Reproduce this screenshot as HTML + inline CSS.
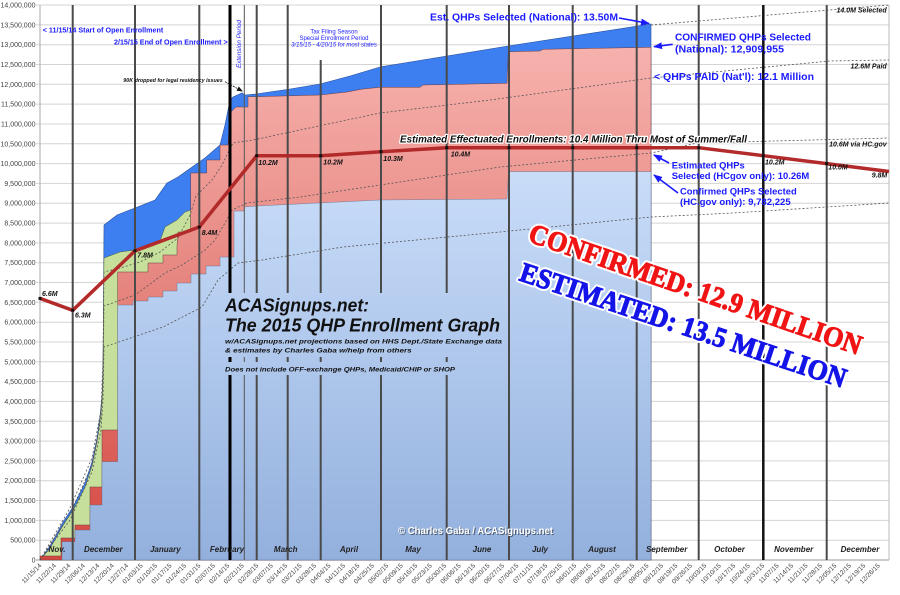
<!DOCTYPE html>
<html>
<head>
<meta charset="utf-8">
<style>
html,body{margin:0;padding:0;background:#fff;}
svg{display:block;}
.yl{font-family:"Liberation Sans",sans-serif;font-size:7px;fill:#444;text-anchor:end;}
.xl{font-family:"Liberation Sans",sans-serif;font-size:6.6px;fill:#444;text-anchor:end;}
.mo{font-family:"Liberation Sans",sans-serif;font-size:8px;font-weight:bold;font-style:italic;fill:#222;text-anchor:middle;}
.pt{font-family:"Liberation Sans",sans-serif;font-size:7px;font-weight:bold;font-style:italic;fill:#111;}
.bl{font-family:"Liberation Sans",sans-serif;font-weight:bold;fill:#1a1aff;}
.bi{font-family:"Liberation Sans",sans-serif;font-weight:bold;font-style:italic;fill:#111;}
</style>
</head>
<body>
<svg width="900" height="595" viewBox="0 0 900 595" xmlns="http://www.w3.org/2000/svg">
<defs>
<linearGradient id="lb" gradientUnits="userSpaceOnUse" x1="0" y1="170" x2="0" y2="560">
<stop offset="0" stop-color="#c9ddf9"/><stop offset="1" stop-color="#93b0dd"/>
</linearGradient>
<linearGradient id="rd" gradientUnits="userSpaceOnUse" x1="0" y1="45" x2="0" y2="560">
<stop offset="0" stop-color="#f7b2ae"/><stop offset="0.5" stop-color="#e5827c"/><stop offset="1" stop-color="#d4463f"/>
</linearGradient>
<marker id="ah" markerWidth="9" markerHeight="7" refX="8" refY="3.5" orient="auto" markerUnits="userSpaceOnUse">
<path d="M0,0 L9,3.5 L0,7 z" fill="#1a1aff"/>
</marker>
<marker id="ahk" markerWidth="6" markerHeight="5" refX="5" refY="2.5" orient="auto" markerUnits="userSpaceOnUse">
<path d="M0,0 L6,2.5 L0,5 z" fill="#111"/>
</marker>
</defs>

<rect x="0" y="0" width="900" height="595" fill="#fff"/>

<!-- gridlines -->
<g stroke="#d4d4d4" stroke-width="1">
<path d="M36 540.2H889M36 520.4H889M36 500.5H889M36 480.7H889M36 460.9H889M36 441.1H889M36 421.3H889M36 401.4H889M36 381.6H889M36 361.8H889M36 342H889M36 322.2H889M36 302.3H889M36 282.5H889M36 262.7H889M36 242.9H889M36 223.1H889M36 203.2H889M36 183.4H889M36 163.6H889M36 143.8H889M36 124H889M36 104.1H889M36 84.3H889M36 64.5H889M36 44.7H889M36 24.9H889M36 5H889"/>
</g>
<line x1="36" y1="560" x2="889" y2="560" stroke="#999" stroke-width="1"/>
<line x1="40" y1="5" x2="40" y2="560" stroke="#aaa" stroke-width="1"/>
<line x1="889" y1="5" x2="889" y2="560" stroke="#bbb" stroke-width="1"/>

<!-- areas -->
<polygon fill="#3d7ef0" stroke="#2a4f9a" stroke-width="0.6" points="40,560 50,546 63,522 73,507 85,483 92,462 97,438 100,416 102,397 103,372 103.5,300 104,225 117,215 135,208 155,200 167,183 178,177 195,165 205,158 220,145 225,125 230,100 233,97 242,93 245,95 256,94 290,89 320,84 350,76 380,67 508,46 651,24 651,560"/>
<polygon fill="#c6e09b" stroke="#4a5a3a" stroke-width="0.5" points="40,560 50,548.5 63,525.5 73,510.5 85,487 92,466 97,442 100,420 102,401 103,376 103.5,300 104,258 120,252 135,250 160,241 165,227 177,220 185,212 190.7,210 190.7,560"/>
<polygon fill="url(#rd)" stroke="#6a3a3a" stroke-width="0.5" points="40,560 40,556 61,556 61,538 75,538 75,525 90,525 90,487 102,487 102,430 117.7,430 117.7,272 148,272 148,263 163,263 163,255 177,255 177,247 178,232 190.7,232 190.7,173 206.7,173 206.7,160 220,160 220,145 228,145 230,113 236,107 248,107 248,96.7 256,96.7 320,95 347,92 363,89 380,87.3 420,87.3 423,85 507,83.3 508.3,51.7 540,51 543,49.3 651,47.3 651,560"/>
<polygon fill="url(#lb)" stroke="#5a6a8a" stroke-width="0.4" points="62,560 62,541.7 75,541.7 75,530 90,530 90,505 102,505 102,461.7 117.7,461.7 117.7,305 133,305 133,301 148,301 148,297 163,297 163,291 177,291 177,283 191,283 191,274 206,274 206,266 220,266 220,257 234,257 234,211 244,211 244,207 256,206 380,200 507,199 508.5,171.7 651,171.7 651,560"/>

<!-- dotted projection lines -->
<g fill="none" stroke="#555" stroke-width="0.8" stroke-dasharray="2,2">
<polyline points="40,560 70,508 92,458 101,410 103,360 104,272 120,268 140,262 160,252 178,238 190,215 196,196 212,180 222,165 228,153 233,143 253,140 300,130 380,113 490,100 651,78 830,61 889,60"/>
<polyline points="40,560 70,514 92,465 101,420 103,380 104,306 135,295 165,273 182,265 205,250 215,240 225,223 232,210 247,203 300,197 500,167 651,153 697,143 889,138"/>
<polyline points="40,560 70,520 92,472 101,430 103,400 104,347 163,327 202,307 218,280 238,263 262,260 343,247 500,232 651,217 733,213 889,203"/>
<polyline points="651,25 889,5"/>
</g>

<!-- vertical month lines -->
<g stroke="#4a4a4a" stroke-width="2">
<line x1="72.7" y1="5" x2="72.7" y2="560"/>
<line x1="135" y1="5" x2="135" y2="560"/>
<line x1="199.3" y1="5" x2="199.3" y2="560"/>
<line x1="256.7" y1="5" x2="256.7" y2="560"/>
<line x1="287.7" y1="5" x2="287.7" y2="560"/>
<line x1="320.7" y1="60" x2="320.7" y2="560"/>
<line x1="381" y1="5" x2="381" y2="560"/>
<line x1="446.7" y1="5" x2="446.7" y2="560"/>
<line x1="509" y1="5" x2="509" y2="560"/>
<line x1="572.7" y1="5" x2="572.7" y2="560"/>
<line x1="636.7" y1="5" x2="636.7" y2="560"/>
<line x1="698.7" y1="5" x2="698.7" y2="560"/>
<line x1="826.7" y1="5" x2="826.7" y2="560"/>
</g>
<line x1="230" y1="5" x2="230" y2="560" stroke="#000" stroke-width="3"/>
<line x1="244.3" y1="5" x2="244.3" y2="560" stroke="#555" stroke-width="1"/>
<line x1="763.3" y1="5" x2="763.3" y2="560" stroke="#111" stroke-width="2.5"/>

<!-- effectuated red line -->
<polyline fill="none" stroke="#b22a2a" stroke-width="3.5" stroke-linejoin="round" points="40,298.4 72.7,310.3 135,250.8 199.3,227 256.7,155.7 320.7,155.7 381,151.7 446.7,147.7 698.7,147.7 763.3,155.7 826.7,163.6 889,171.5"/>
<g fill="#111">
<rect x="38.5" y="296.9" width="3" height="3"/>
<rect x="71.2" y="308.8" width="3" height="3"/>
<rect x="133.5" y="249.3" width="3" height="3"/>
<rect x="197.8" y="225.5" width="3" height="3"/>
<rect x="255.2" y="154.2" width="3" height="3"/>
<rect x="319.2" y="154.2" width="3" height="3"/>
<rect x="379.5" y="150.2" width="3" height="3"/>
<rect x="445.2" y="146.2" width="3" height="3"/>
<rect x="507.5" y="146.2" width="3" height="3"/>
<rect x="571.2" y="146.2" width="3" height="3"/>
<rect x="635.2" y="146.2" width="3" height="3"/>
<rect x="697.2" y="146.2" width="3" height="3"/>
<rect x="761.8" y="154.2" width="3" height="3"/>
<rect x="825.2" y="162.1" width="3" height="3"/>
</g>

<!-- point labels -->
<text class="pt" x="42" y="296">6.6M</text>
<text class="pt" x="75" y="317.3">6.3M</text>
<text class="pt" x="137.3" y="257.3">7.8M</text>
<text class="pt" x="201.7" y="235">8.4M</text>
<text class="pt" x="258.3" y="165">10.2M</text>
<text class="pt" x="323.3" y="164.3">10.2M</text>
<text class="pt" x="383.3" y="161">10.3M</text>
<text class="pt" x="450.7" y="156.7">10.4M</text>
<text class="pt" x="765" y="164.3">10.2M</text>
<text class="pt" x="828.3" y="169.3">10.0M</text>
<text class="pt" x="871.7" y="177.3">9.8M</text>

<!-- y-axis labels -->
<text class="yl" x="35.5" y="562.5">0</text>
<text class="yl" x="35.5" y="542.7">500,000</text>
<text class="yl" x="35.5" y="522.9">1,000,000</text>
<text class="yl" x="35.5" y="503">1,500,000</text>
<text class="yl" x="35.5" y="483.2">2,000,000</text>
<text class="yl" x="35.5" y="463.4">2,500,000</text>
<text class="yl" x="35.5" y="443.6">3,000,000</text>
<text class="yl" x="35.5" y="423.8">3,500,000</text>
<text class="yl" x="35.5" y="403.9">4,000,000</text>
<text class="yl" x="35.5" y="384.1">4,500,000</text>
<text class="yl" x="35.5" y="364.3">5,000,000</text>
<text class="yl" x="35.5" y="344.5">5,500,000</text>
<text class="yl" x="35.5" y="324.7">6,000,000</text>
<text class="yl" x="35.5" y="304.8">6,500,000</text>
<text class="yl" x="35.5" y="285">7,000,000</text>
<text class="yl" x="35.5" y="265.2">7,500,000</text>
<text class="yl" x="35.5" y="245.4">8,000,000</text>
<text class="yl" x="35.5" y="225.6">8,500,000</text>
<text class="yl" x="35.5" y="205.7">9,000,000</text>
<text class="yl" x="35.5" y="185.9">9,500,000</text>
<text class="yl" x="35.5" y="166.1">10,000,000</text>
<text class="yl" x="35.5" y="146.3">10,500,000</text>
<text class="yl" x="35.5" y="126.5">11,000,000</text>
<text class="yl" x="35.5" y="106.6">11,500,000</text>
<text class="yl" x="35.5" y="86.8">12,000,000</text>
<text class="yl" x="35.5" y="67">12,500,000</text>
<text class="yl" x="35.5" y="47.2">13,000,000</text>
<text class="yl" x="35.5" y="27.4">13,500,000</text>
<text class="yl" x="35.5" y="7.5">14,000,000</text>

<!-- x-axis labels -->
<g>
<text class="xl" transform="translate(42,566) rotate(-45)">11/15/14</text>
<text class="xl" transform="translate(56.5,566) rotate(-45)">11/22/14</text>
<text class="xl" transform="translate(70.9,566) rotate(-45)">11/29/14</text>
<text class="xl" transform="translate(85.4,566) rotate(-45)">12/06/14</text>
<text class="xl" transform="translate(99.8,566) rotate(-45)">12/13/14</text>
<text class="xl" transform="translate(114.3,566) rotate(-45)">12/20/14</text>
<text class="xl" transform="translate(128.7,566) rotate(-45)">12/27/14</text>
<text class="xl" transform="translate(143.2,566) rotate(-45)">01/03/15</text>
<text class="xl" transform="translate(157.6,566) rotate(-45)">01/10/15</text>
<text class="xl" transform="translate(172.1,566) rotate(-45)">01/17/15</text>
<text class="xl" transform="translate(186.6,566) rotate(-45)">01/24/15</text>
<text class="xl" transform="translate(201,566) rotate(-45)">01/31/15</text>
<text class="xl" transform="translate(215.5,566) rotate(-45)">02/07/15</text>
<text class="xl" transform="translate(229.9,566) rotate(-45)">02/14/15</text>
<text class="xl" transform="translate(244.4,566) rotate(-45)">02/21/15</text>
<text class="xl" transform="translate(258.8,566) rotate(-45)">02/28/15</text>
<text class="xl" transform="translate(273.3,566) rotate(-45)">03/07/15</text>
<text class="xl" transform="translate(287.7,566) rotate(-45)">03/14/15</text>
<text class="xl" transform="translate(302.2,566) rotate(-45)">03/21/15</text>
<text class="xl" transform="translate(316.6,566) rotate(-45)">03/28/15</text>
<text class="xl" transform="translate(331.1,566) rotate(-45)">04/04/15</text>
<text class="xl" transform="translate(345.6,566) rotate(-45)">04/11/15</text>
<text class="xl" transform="translate(360,566) rotate(-45)">04/18/15</text>
<text class="xl" transform="translate(374.5,566) rotate(-45)">04/25/15</text>
<text class="xl" transform="translate(388.9,566) rotate(-45)">05/02/15</text>
<text class="xl" transform="translate(403.4,566) rotate(-45)">05/09/15</text>
<text class="xl" transform="translate(417.8,566) rotate(-45)">05/16/15</text>
<text class="xl" transform="translate(432.3,566) rotate(-45)">05/23/15</text>
<text class="xl" transform="translate(446.7,566) rotate(-45)">05/30/15</text>
<text class="xl" transform="translate(461.2,566) rotate(-45)">06/06/15</text>
<text class="xl" transform="translate(475.7,566) rotate(-45)">06/13/15</text>
<text class="xl" transform="translate(490.1,566) rotate(-45)">06/20/15</text>
<text class="xl" transform="translate(504.6,566) rotate(-45)">06/27/15</text>
<text class="xl" transform="translate(519,566) rotate(-45)">07/04/15</text>
<text class="xl" transform="translate(533.5,566) rotate(-45)">07/11/15</text>
<text class="xl" transform="translate(547.9,566) rotate(-45)">07/18/15</text>
<text class="xl" transform="translate(562.4,566) rotate(-45)">07/25/15</text>
<text class="xl" transform="translate(576.8,566) rotate(-45)">08/01/15</text>
<text class="xl" transform="translate(591.3,566) rotate(-45)">08/08/15</text>
<text class="xl" transform="translate(605.7,566) rotate(-45)">08/15/15</text>
<text class="xl" transform="translate(620.2,566) rotate(-45)">08/22/15</text>
<text class="xl" transform="translate(634.7,566) rotate(-45)">08/29/15</text>
<text class="xl" transform="translate(649.1,566) rotate(-45)">09/05/15</text>
<text class="xl" transform="translate(663.6,566) rotate(-45)">09/12/15</text>
<text class="xl" transform="translate(678,566) rotate(-45)">09/19/15</text>
<text class="xl" transform="translate(692.5,566) rotate(-45)">09/26/15</text>
<text class="xl" transform="translate(706.9,566) rotate(-45)">10/03/15</text>
<text class="xl" transform="translate(721.4,566) rotate(-45)">10/10/15</text>
<text class="xl" transform="translate(735.8,566) rotate(-45)">10/17/15</text>
<text class="xl" transform="translate(750.3,566) rotate(-45)">10/24/15</text>
<text class="xl" transform="translate(764.8,566) rotate(-45)">10/31/15</text>
<text class="xl" transform="translate(779.2,566) rotate(-45)">11/07/15</text>
<text class="xl" transform="translate(793.7,566) rotate(-45)">11/14/15</text>
<text class="xl" transform="translate(808.1,566) rotate(-45)">11/21/15</text>
<text class="xl" transform="translate(822.6,566) rotate(-45)">11/28/15</text>
<text class="xl" transform="translate(837,566) rotate(-45)">12/05/15</text>
<text class="xl" transform="translate(851.5,566) rotate(-45)">12/12/15</text>
<text class="xl" transform="translate(865.9,566) rotate(-45)">12/19/15</text>
<text class="xl" transform="translate(880.4,566) rotate(-45)">12/26/15</text>
</g>

<!-- month labels -->
<text class="mo" x="57" y="552">Nov.</text>
<text class="mo" x="103.3" y="552">December</text>
<text class="mo" x="165.3" y="552">January</text>
<text class="mo" x="227" y="552">February</text>
<text class="mo" x="285.7" y="552">March</text>
<text class="mo" x="349" y="552">April</text>
<text class="mo" x="413" y="552">May</text>
<text class="mo" x="482" y="552">June</text>
<text class="mo" x="540" y="552">July</text>
<text class="mo" x="602" y="552">August</text>
<text class="mo" x="666.7" y="552">September</text>
<text class="mo" x="729.5" y="552">October</text>
<text class="mo" x="793.7" y="552">November</text>
<text class="mo" x="860" y="552">December</text>

<!-- top-left annotations -->
<text class="bl" x="42.7" y="32.7" font-size="7.5" textLength="120.6" lengthAdjust="spacingAndGlyphs">&lt; 11/15/14 Start of Open Enrollment</text>
<text class="bl" x="114" y="44.3" font-size="7.5" textLength="113.7" lengthAdjust="spacingAndGlyphs">2/15/15 End of Open Enrollment &gt;</text>
<text font-family="Liberation Sans, sans-serif" font-style="italic" font-size="6.5" fill="#1a1aff" transform="translate(241,68) rotate(-90)" textLength="48" lengthAdjust="spacingAndGlyphs">Extension Period</text>
<g font-family="Liberation Sans, sans-serif" font-size="6" fill="#1a1aff" text-anchor="middle">
<text x="334" y="33.3">Tax Filing Season</text>
<text x="334" y="40">Special Enrollment Period</text>
<text x="334" y="46.7" font-style="italic" textLength="85.7" lengthAdjust="spacingAndGlyphs">3/15/15 - 4/20/15 for most states</text>
</g>
<text class="bi" x="123.3" y="82" font-size="5.5" textLength="99.4" lengthAdjust="spacingAndGlyphs">90K dropped for legal residency issues</text>
<line x1="225" y1="81.7" x2="242" y2="91" stroke="#111" stroke-width="0.8" stroke-dasharray="2,1" marker-end="url(#ahk)"/>

<!-- right annotations -->
<text class="bl" x="430" y="20.7" font-size="10" textLength="188" lengthAdjust="spacingAndGlyphs">Est. QHPs Selected (National): 13.50M</text>
<line x1="619" y1="18" x2="649" y2="23.5" stroke="#1a1aff" stroke-width="1.6" marker-end="url(#ah)"/>
<text class="bl" x="675" y="40.7" font-size="10" textLength="136" lengthAdjust="spacingAndGlyphs">CONFIRMED QHPs Selected</text>
<text class="bl" x="675" y="52.7" font-size="10" textLength="109" lengthAdjust="spacingAndGlyphs">(National): 12,909,955</text>
<line x1="672.7" y1="44.3" x2="654" y2="46.7" stroke="#1a1aff" stroke-width="1.6" marker-end="url(#ah)"/>
<text class="bl" x="654" y="80" font-size="10" textLength="160" lengthAdjust="spacingAndGlyphs">&lt; QHPs PAID (Nat'l): 12.1 Million</text>
<text class="bl" x="671.7" y="168.3" font-size="9.5" textLength="73" lengthAdjust="spacingAndGlyphs">Estimated QHPs</text>
<text class="bl" x="671.7" y="179" font-size="9.5" textLength="137.6" lengthAdjust="spacingAndGlyphs">Selected (HCgov only): 10.26M</text>
<line x1="669" y1="163" x2="654" y2="155" stroke="#1a1aff" stroke-width="1.6" marker-end="url(#ah)"/>
<text class="bl" x="680" y="194.3" font-size="9.5" textLength="116.7" lengthAdjust="spacingAndGlyphs">Confirmed QHPs Selected</text>
<text class="bl" x="680" y="205" font-size="9.5" textLength="110.7" lengthAdjust="spacingAndGlyphs">(HC.gov only): 9,782,225</text>
<line x1="678" y1="193" x2="654" y2="175" stroke="#1a1aff" stroke-width="1.6" marker-end="url(#ah)"/>

<text class="bi" x="886.7" y="12.3" font-size="7" text-anchor="end">14.0M Selected</text>
<text class="bi" x="886.7" y="68.3" font-size="7" text-anchor="end">12.6M Paid</text>
<text class="bi" x="886.7" y="146.7" font-size="7" text-anchor="end">10.6M via HC.gov</text>

<text class="bi" x="400" y="142.7" font-size="10.5" textLength="347" lengthAdjust="spacingAndGlyphs" stroke="#fff" stroke-width="2.5" paint-order="stroke" stroke-linejoin="round">Estimated Effectuated Enrollments: 10.4 Million Thru Most of Summer/Fall</text>

<!-- title block -->
<rect x="222" y="293" width="283" height="64" fill="url(#lb)"/>
<rect x="222" y="362" width="235" height="13" fill="url(#lb)"/>
<text class="bi" x="225" y="311.7" font-size="18.5" textLength="144" lengthAdjust="spacingAndGlyphs">ACASignups.net:</text>
<text class="bi" x="225" y="331.7" font-size="18.5" textLength="275" lengthAdjust="spacingAndGlyphs">The 2015 QHP Enrollment Graph</text>
<text class="bi" x="225" y="343.3" font-size="6.8" textLength="277" lengthAdjust="spacingAndGlyphs">w/ACASignups.net projections based on HHS Dept./State Exchange data</text>
<text class="bi" x="225" y="352.7" font-size="6.8" textLength="186.7" lengthAdjust="spacingAndGlyphs">&amp; estimates by Charles Gaba w/help from others</text>
<text class="bi" x="225" y="371.7" font-size="6.8" textLength="230" lengthAdjust="spacingAndGlyphs">Does not include OFF-exchange QHPs, Medicaid/CHIP or SHOP</text>

<!-- copyright -->
<text x="399" y="535" font-family="Liberation Sans, sans-serif" font-size="10" font-weight="bold" fill="#4a5a70" textLength="155" lengthAdjust="spacingAndGlyphs">© Charles Gaba / ACASignups.net</text>
<text x="398" y="534" font-family="Liberation Sans, sans-serif" font-size="10" font-weight="bold" fill="#fff" textLength="155" lengthAdjust="spacingAndGlyphs">© Charles Gaba / ACASignups.net</text>

<!-- big headline text -->
<g font-family="Liberation Serif, serif" font-weight="bold" font-size="28">
<text transform="translate(527,241) rotate(19)" textLength="350" lengthAdjust="spacingAndGlyphs" fill="#fff" stroke="#fff" stroke-width="5" stroke-linejoin="round">CONFIRMED: 12.9 MILLION</text>
<text transform="translate(527,241) rotate(19)" textLength="350" lengthAdjust="spacingAndGlyphs" fill="#f01414" stroke="#f01414" stroke-width="1">CONFIRMED: 12.9 MILLION</text>
<text transform="translate(518,280) rotate(18.4)" textLength="342" lengthAdjust="spacingAndGlyphs" fill="#fff" stroke="#fff" stroke-width="5" stroke-linejoin="round">ESTIMATED: 13.5 MILLION</text>
<text transform="translate(518,280) rotate(18.4)" textLength="342" lengthAdjust="spacingAndGlyphs" fill="#1414e8" stroke="#1414e8" stroke-width="1">ESTIMATED: 13.5 MILLION</text>
</g>
</svg>
</body>
</html>
